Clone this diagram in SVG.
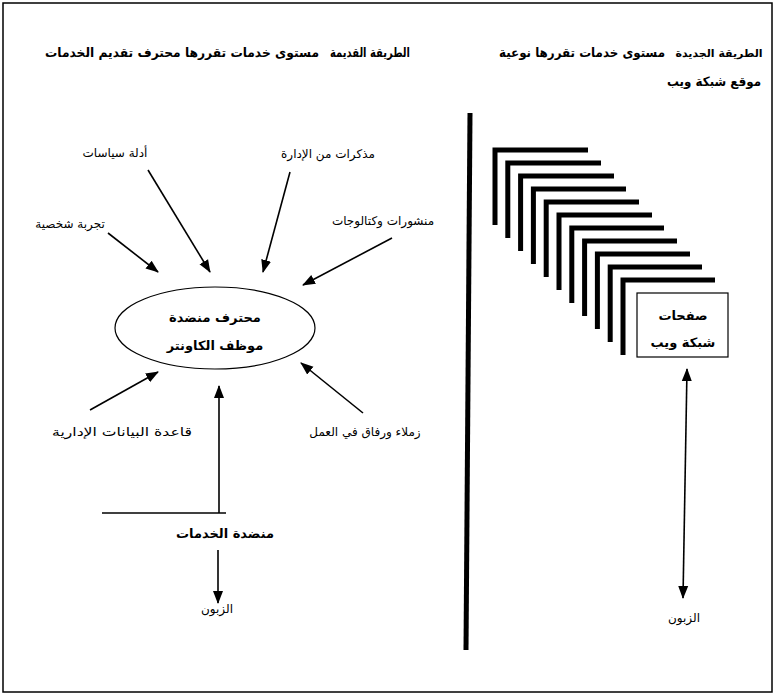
<svg xmlns="http://www.w3.org/2000/svg" width="775" height="695" viewBox="0 0 775 695">
<style>
.t{font-family:"DejaVu Sans","Noto Sans",sans-serif;font-size:12px;fill:#000;text-anchor:middle}
.b{font-weight:bold;font-size:13px}
.ln{stroke:#000;stroke-width:1.6;fill:none}
.thick{stroke:#000;stroke-width:5;fill:none;stroke-linecap:butt}
</style>
<defs>
<marker id="ah" markerUnits="userSpaceOnUse" markerWidth="14" markerHeight="12" refX="12" refY="5" orient="auto-start-reverse" viewBox="0 0 14 10">
<path d="M0,0 L13,5 L0,10 Z" fill="#000"/>
</marker>
</defs>
<rect x="3" y="3" width="769" height="689" fill="#fff" stroke="#000" stroke-width="1.5"/>

<g id="titles">
<text class="t b" x="370" y="57" textLength="80" lengthAdjust="spacingAndGlyphs">الطريقة القديمة</text>
<text class="t b" x="182" y="57" textLength="274" lengthAdjust="spacingAndGlyphs">مستوى خدمات تقررها محترف تقديم الخدمات</text>
<text class="t b" x="719" y="57" style="font-size:11px">الطريقة الجديدة</text>
<text class="t b" x="582" y="57" textLength="166" lengthAdjust="spacingAndGlyphs">مستوى خدمات تقررها نوعية</text>
<text class="t b" x="714" y="86" textLength="94" lengthAdjust="spacingAndGlyphs">موقع شبكة ويب</text>
</g>

<g id="divider"><path class="thick" d="M470,113 L466,650"/></g>

<g id="connectors">
<path class="ln" marker-end="url(#ah)" d="M108,233 L158,272"/>
<path class="ln" marker-end="url(#ah)" d="M148,170 L210,272"/>
<path class="ln" marker-end="url(#ah)" d="M290,172 L263,272"/>
<path class="ln" marker-end="url(#ah)" d="M392,238 L303,285"/>
<path class="ln" marker-end="url(#ah)" d="M90,410 L158,372"/>
<path class="ln" marker-end="url(#ah)" d="M363,413 L301,363"/>
<path class="ln" marker-end="url(#ah)" d="M219,513 L219,386"/>
<path class="ln" d="M102,513 L226,513"/>
<path class="ln" marker-end="url(#ah)" d="M218,550 L218,603"/>
<path class="ln" marker-start="url(#ah)" marker-end="url(#ah)" d="M687,369 L683,598"/>
</g>

<g id="n-experience"><text class="t" x="70" y="228">تجربة شخصية</text></g>
<g id="n-policy"><text class="t" x="115" y="157">أدلة سياسات</text></g>
<g id="n-memos"><text class="t" x="328" y="158">مذكرات من الإدارة</text></g>
<g id="n-catalogs"><text class="t" x="383" y="225">منشورات وكتالوجات</text></g>
<g id="n-database"><text class="t" x="122" y="436" textLength="140" lengthAdjust="spacingAndGlyphs">قاعدة البيانات الإدارية</text></g>
<g id="n-colleagues"><text class="t" x="365" y="436">زملاء ورفاق في العمل</text></g>

<g id="n-counter">
<ellipse cx="215" cy="328" rx="100" ry="41" fill="none" stroke="#000" stroke-width="1.2"/>
<text class="t b" x="215" y="322">محترف منضدة</text>
<text class="t b" x="215" y="350">موظف الكاونتر</text>
</g>

<g id="n-desk"><text class="t b" x="225" y="538">منضدة الخدمات</text></g>
<g id="n-customer-old"><text class="t" x="217" y="613">الزبون</text></g>

<g id="n-pages">
<path class="thick" d="M495,225 V150 H588"/>
<path class="thick" d="M507.8,238 V163 H601"/>
<path class="thick" d="M520.6,251 V176 H614"/>
<path class="thick" d="M533.4,264 V189 H626"/>
<path class="thick" d="M546.2,277 V202 H639"/>
<path class="thick" d="M559,290 V215 H652"/>
<path class="thick" d="M571.8,303 V228 H664"/>
<path class="thick" d="M584.6,316 V241 H677"/>
<path class="thick" d="M597.4,329 V254 H690"/>
<path class="thick" d="M610.2,342 V267 H702"/>
<path class="thick" d="M623,355 V280 H715"/>
<rect x="637" y="293" width="91" height="64" fill="#fff" stroke="#000" stroke-width="1.2"/>
<text class="t b" x="683" y="320">صفحات</text>
<text class="t b" x="683" y="347">شبكة ويب</text>
</g>

<g id="n-customer-new"><text class="t" x="684" y="622">الزبون</text></g>
</svg>
